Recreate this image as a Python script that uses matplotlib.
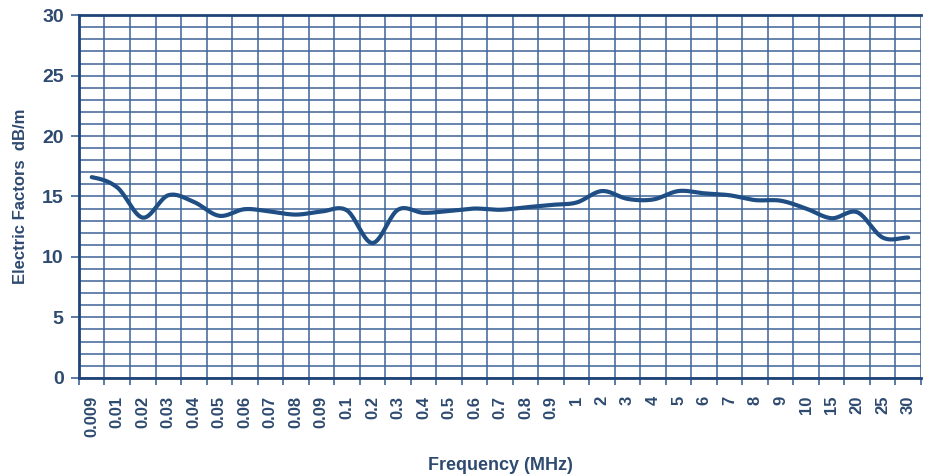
import numpy as np
import matplotlib.pyplot as plt

plt.rcParams['font.family'] = ['Liberation Sans', 'DejaVu Sans']

freq_labels = ['0.009', '0.01', '0.02', '0.03', '0.04', '0.05', '0.06', '0.07', '0.08', '0.09',
               '0.1', '0.2', '0.3', '0.4', '0.5', '0.6', '0.7', '0.8', '0.9', '1',
               '2', '3', '4', '5', '6', '7', '8', '9', '10', '15', '20', '25', '30']
factor_db = [16.6, 15.75, 13.25, 15.1, 14.55, 13.4, 13.95, 13.75, 13.5, 13.75,
             13.85, 11.15, 13.9, 13.65, 13.8, 14.0, 13.9, 14.1, 14.3, 14.5,
             15.45, 14.8, 14.75, 15.45, 15.26, 15.1, 14.7, 14.65, 14.0, 13.2,
             13.7, 11.6, 11.6]

grid_c = '#3d6597'
line_c = '#1f4e85'
text_c = '#2e4a70'


def smooth(x, y, n=20):
    # catmull-rom through the points, like a smoothed office chart line
    x = np.asarray(x, float)
    y = np.asarray(y, float)
    px = np.concatenate([[2 * x[0] - x[1]], x, [2 * x[-1] - x[-2]]])
    py = np.concatenate([[y[0]], y, [y[-1]]])
    xs, ys = [], []
    t = np.linspace(0, 1, n, endpoint=False)
    for i in range(1, len(px) - 2):
        for P, out in ((px, xs), (py, ys)):
            p0, p1, p2, p3 = P[i - 1], P[i], P[i + 1], P[i + 2]
            out.extend(0.5 * (2 * p1 + (-p0 + p2) * t + (2 * p0 - 5 * p1 + 4 * p2 - p3) * t ** 2
                              + (-p0 + 3 * p1 - 3 * p2 + p3) * t ** 3))
    xs.append(x[-1])
    ys.append(y[-1])
    return np.array(xs), np.array(ys)


fig = plt.figure(figsize=(9.27, 4.74), dpi=100)
ax = fig.add_axes([0.0852, 0.203, 0.9083, 0.765])

idx = np.arange(len(freq_labels))
sx, sy = smooth(idx, factor_db)
ax.plot(sx, sy, color=line_c, lw=3.0, solid_capstyle='round', zorder=3)

ax.set_xlim(-0.5, len(freq_labels) - 0.5)
ax.set_ylim(0, 30)

ax.set_xticks(idx)
ax.set_xticklabels(freq_labels, rotation=90, fontsize=12, fontweight='bold', color=text_c)
ax.set_xticks(np.arange(-0.5, len(freq_labels)), minor=True)
ax.tick_params(axis='x', which='major', length=0, pad=13)
ax.tick_params(axis='x', which='minor', length=5, width=1.2, color=grid_c)

ax.set_yticks(np.arange(0, 31, 5))
ax.set_yticks(np.arange(0, 31, 1), minor=True)
ax.tick_params(axis='y', which='major', length=6, width=1.2, color=grid_c,
               labelsize=14, labelcolor=text_c, pad=5)
ax.tick_params(axis='y', which='minor', length=0)
for lab in ax.get_yticklabels():
    lab.set_fontweight('bold')

ax.grid(True, which='minor', color=grid_c, lw=1.1)
ax.grid(True, which='major', axis='y', color=grid_c, lw=1.1)
ax.set_axisbelow(True)

for side in ['left', 'bottom', 'top']:
    ax.spines[side].set_color('#1f4478')
    ax.spines[side].set_linewidth(2.0)
ax.spines['right'].set_visible(False)

ax.set_ylabel('Electric Factors  dB/m', fontsize=12, fontweight='bold', color=text_c, labelpad=10)
ax.set_xlabel('Frequency (MHz)', fontsize=13, fontweight='bold', color=text_c, labelpad=14)

plt.savefig('out.png')
